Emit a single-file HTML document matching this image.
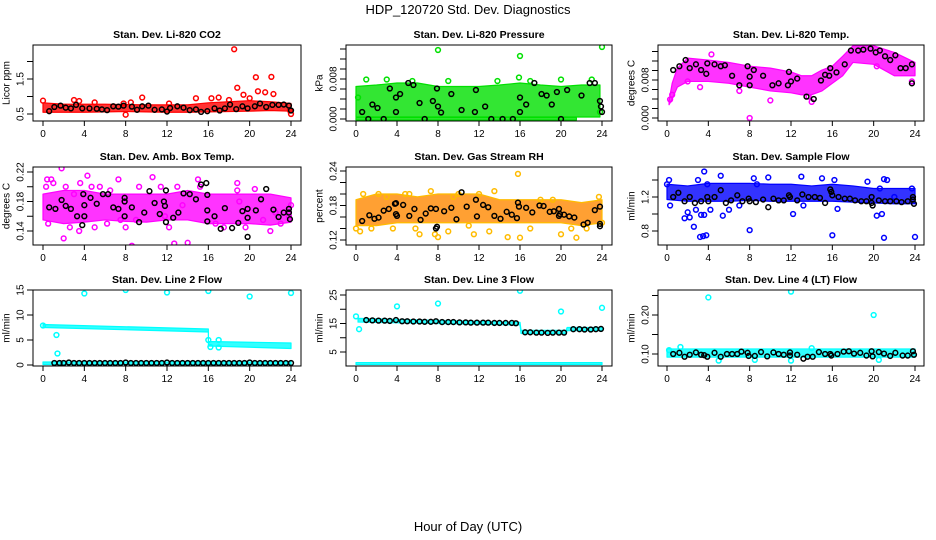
<!DOCTYPE html>
<html><head><meta charset="utf-8">
<style>
html,body{margin:0;padding:0;background:#fff}
svg{display:block}
text{font-family:"Liberation Sans",sans-serif;fill:#000}
.t{font-size:10.5px;font-weight:bold;text-anchor:middle}
.tk{font-size:10px;text-anchor:middle}
</style></head><body>
<svg id="chart" width="936" height="540" viewBox="0 0 936 540" xmlns="http://www.w3.org/2000/svg">
<text x="468" y="14" style="font-size:13px;text-anchor:middle">HDP_120720  Std. Dev. Diagnostics</text>
<text x="468" y="531" style="font-size:13px;text-anchor:middle">Hour of Day (UTC)</text>
</svg>
<script>
// ---------- shared ----------
const xTicks = [0,4,8,12,16,20,24];
// ---------- Panel 1: CO2 ----------
const co2BandHours = [0,2,4,6,8,10,12,14,16,18,20,22,24];
const co2BandLo = [0.55,0.55,0.55,0.56,0.57,0.56,0.55,0.55,0.56,0.57,0.58,0.6,0.58];
const co2BandHi = [0.82,0.78,0.78,0.78,0.77,0.76,0.76,0.76,0.82,0.85,0.88,0.85,0.8];
const co2Pts = [[0,0.88],[3,0.9],[3.5,0.87],[5,0.83],[7.8,0.8],[8,0.48],[8.5,0.83],[9.6,0.97],[12.2,0.8],[14.8,0.95],[16.3,0.95],[17,0.97],[18.5,2.35],[18.8,1.25],[19.4,1.05],[20.6,1.55],[20.8,1.15],[21.5,1.12],[22.1,1.56],[22.3,1.07],[18,0.9],[20,0.95],[24,0.5],[23.9,0.6]];
const co2Black = [[0.6,0.58],[1.1,0.7],[1.7,0.74],[2.2,0.68],[2.7,0.66],[3.2,0.76],[3.8,0.66],[4.5,0.66],[5.2,0.65],[5.7,0.63],[6.2,0.61],[6.8,0.72],[7.3,0.71],[7.8,0.74],[8.6,0.71],[9.1,0.62],[9.6,0.72],[10.2,0.74],[10.8,0.62],[11.5,0.63],[12,0.57],[12.3,0.67],[13,0.72],[13.6,0.68],[14.2,0.61],[14.8,0.63],[15.3,0.56],[15.9,0.58],[16.6,0.66],[17.1,0.6],[17.6,0.66],[18.1,0.77],[18.7,0.64],[19.3,0.72],[19.8,0.66],[20.5,0.72],[21,0.8],[21.6,0.7],[22.2,0.76],[22.8,0.76],[23.3,0.77],[23.8,0.74],[24,0.6]];
const co2Ticks = [0.5,1,1.5,2];
const co2TickLabels = ["0.5","","1.5",""];
// ---------- Panel 2: Pressure ----------
const presBandHours = [0,2,4,6,8,10,12,14,16,18,20,22,23.8];
const presBandLo = [0.0004,0.0004,0.0004,0.0004,0.0004,0.0004,0.0004,0.0004,0.0004,0.0004,0.0004,0.0004,0.0004];
const presBandHi = [0.0065,0.0068,0.0072,0.0072,0.0065,0.0065,0.0065,0.0068,0.0072,0.0068,0.0065,0.0068,0.0068];
const presZeroHours = [0,21.5];
const presZeroLo = [-0.0002,-0.0002];
const presZeroHi = [0.0003,0.0003];
const presPts = [[8,0.0138],[16,0.0126],[24,0.0144],[0.2,0.0043],[1,0.0079],[3,0.0079],[5.5,0.0076],[9,0.0076],[13.8,0.0076],[15.9,0.0083],[17,0.0076],[20,0.0079],[23,0.0079],[23.8,0.0014]];
const presBlack = [[0.6,0.0014],[1.2,0],[1.6,0.0029],[2.1,0.0022],[2.7,0],[3.3,0.0061],[3.9,0.0043],[3.9,0.0014],[4.3,0.005],[5.1,0.0072],[5.6,0.0068],[6.2,0.0032],[6.7,0],[7.5,0.0036],[7.9,0.0061],[8,0.0025],[8.3,0.0013],[9.3,0.005],[10.3,0.0018],[11.6,0.0014],[11.7,0.0058],[12.6,0.0025],[13.2,0],[14.3,0],[15.3,0],[16,0.0043],[16,0.0014],[16.6,0.0029],[17.4,0.0072],[18.1,0.005],[18.6,0.0047],[19.1,0.0029],[19.6,0.0054],[20,0],[20.6,0.0058],[22,0.0047],[22.8,0.0072],[23.3,0.0072],[23.8,0.0036],[23.9,0.0025],[24,0.0014]];
const presTicks = [0,0.002,0.004,0.006,0.008,0.010,0.012,0.014];
const presTickLabels = ["0.000","","","","0.008","","",""];
// ---------- Panel 3: Li-820 Temp ----------
const tempBandHours = [0.2,0.5,1,2,4,6,8,10,12,13,14,15,16,17,18,20,22,24];
const tempBandLo = [0.0028,0.004,0.0065,0.0077,0.0077,0.0073,0.0065,0.0057,0.0053,0.0049,0.0049,0.0057,0.0073,0.0089,0.0117,0.0113,0.0089,0.0089];
const tempBandHi = [0.0036,0.0073,0.0105,0.0126,0.0122,0.0117,0.0109,0.0105,0.0097,0.0089,0.0089,0.0101,0.0109,0.013,0.0152,0.0152,0.0138,0.0117];
const tempPts = [[8,0],[10,0.0037],[0.3,0.0039],[0.5,0.0049],[4.3,0.0134],[3.2,0.0065],[2,0.0077],[7,0.0057],[14,0.0034],[13.7,0.0045],[20.3,0.0109],[23.7,0.0077]];
const tempBlack = [[0.6,0.0101],[1.2,0.0109],[1.8,0.0122],[2.2,0.0105],[2.8,0.0113],[3.3,0.0101],[3.8,0.0093],[3.9,0.0115],[4.6,0.0113],[5.2,0.0109],[5.6,0.0111],[6.3,0.0089],[7,0.0069],[7.8,0.0109],[8,0.0069],[8,0.0087],[8.4,0.0101],[9.3,0.0089],[10.2,0.0069],[10.8,0.0073],[11.7,0.0069],[11.8,0.0097],[12,0.0077],[12.6,0.0083],[13.5,0.0045],[14.2,0.004],[14.9,0.0079],[15.3,0.0091],[15.7,0.0089],[15.8,0.0105],[16.4,0.0096],[17.2,0.0113],[17.8,0.0142],[18.5,0.0142],[19,0.0144],[19.7,0.0146],[20.2,0.0138],[20.6,0.0142],[21.1,0.013],[21.6,0.0122],[22.1,0.0132],[22.6,0.0105],[23.1,0.0105],[23.7,0.0113],[23.7,0.0073]];
const tempTicks = [0,0.002,0.004,0.006,0.008,0.010,0.012,0.014];
const tempTickLabels = ["0.000","","","","0.008","","",""];
// ---------- Panel 4: Amb Box Temp ----------
const ambBandHours = [0,2,4,6,8,10,12,14,16,18,20,22,24];
const ambBandLo = [0.155,0.15,0.152,0.155,0.153,0.152,0.155,0.155,0.15,0.15,0.15,0.148,0.152];
const ambBandHi = [0.19,0.195,0.195,0.19,0.19,0.19,0.19,0.195,0.19,0.19,0.19,0.19,0.185];
const ambPts = [[0.3,0.2],[0.4,0.21],[0.5,0.15],[0.8,0.21],[1,0.205],[1.8,0.225],[2,0.13],[2.2,0.2],[2.6,0.145],[3,0.19],[3.5,0.14],[3.6,0.205],[4.3,0.215],[4.7,0.2],[5.5,0.2],[6.2,0.15],[6.5,0.195],[7.3,0.21],[7.5,0.155],[8,0.145],[8.6,0.12],[9.3,0.2],[10.6,0.213],[11.4,0.2],[11.8,0.16],[12.2,0.145],[12.7,0.123],[13,0.2],[14,0.124],[15,0.21],[15.2,0.2],[16.7,0.15],[17.5,0.145],[18.8,0.205],[18.8,0.195],[19.6,0.145],[20.5,0.197],[21.3,0.155],[22.5,0.165],[23,0.15],[24,0.175],[23.8,0.16],[22,0.14],[19,0.18],[13.5,0.175],[9,0.155],[5,0.145]];
const ambBlack = [[0.6,0.172],[1.2,0.17],[1.8,0.182],[2.2,0.174],[2.7,0.17],[3.3,0.16],[3.8,0.148],[3.9,0.19],[4,0.175],[4,0.16],[4.6,0.185],[5.2,0.177],[5.8,0.19],[6.3,0.19],[6.8,0.172],[7.3,0.17],[7.9,0.185],[7.9,0.18],[7.9,0.16],[8.6,0.172],[9.3,0.152],[9.8,0.165],[10.3,0.194],[10.8,0.178],[11.3,0.163],[11.7,0.18],[11.8,0.174],[11.9,0.152],[11.9,0.195],[12.6,0.158],[13.1,0.165],[13.6,0.191],[14.2,0.19],[14.8,0.183],[15.3,0.203],[15.8,0.205],[15.9,0.189],[15.9,0.168],[15.9,0.153],[16.6,0.16],[17.2,0.143],[17.6,0.171],[18.3,0.144],[18.9,0.151],[19.3,0.167],[19.8,0.17],[19.8,0.158],[19.8,0.132],[20.6,0.168],[21.1,0.183],[21.6,0.197],[22.3,0.169],[22.8,0.159],[23.3,0.165],[23.8,0.17],[23.8,0.165],[23.9,0.156]];
const ambTicks = [0.14,0.16,0.18,0.20,0.22];
const ambTickLabels = ["0.14","","0.18","","0.22"];
// ---------- Panel 5: Gas Stream RH ----------
const rhBandHours = [0,2,4,6,8,10,12,14,16,18,20,22,24];
const rhBandLo = [0.145,0.145,0.15,0.15,0.15,0.15,0.15,0.15,0.15,0.15,0.15,0.145,0.15];
const rhBandHi = [0.19,0.2,0.2,0.195,0.2,0.2,0.2,0.19,0.19,0.19,0.19,0.185,0.19];
const rhPts = [[0,0.14],[0.4,0.135],[0.7,0.2],[1.5,0.14],[2.2,0.2],[3,0.195],[3.6,0.14],[4.8,0.2],[5.2,0.2],[5.8,0.14],[6.2,0.13],[7.3,0.205],[7.7,0.13],[8,0.125],[9,0.135],[9.5,0.195],[10,0.2],[11,0.145],[11.5,0.13],[12,0.2],[13,0.135],[13.5,0.205],[14.8,0.125],[15.8,0.235],[16,0.124],[17,0.14],[18,0.19],[19.2,0.19],[20,0.13],[21,0.14],[21.5,0.124],[22.5,0.14],[23.7,0.195],[24,0.15]];
const rhBlack = [[0.6,0.153],[1.3,0.163],[1.8,0.157],[2.2,0.159],[2.7,0.171],[3.2,0.174],[3.8,0.183],[3.9,0.184],[3.9,0.165],[4,0.162],[4.6,0.181],[5.2,0.162],[5.7,0.174],[6.3,0.155],[6.8,0.166],[7.3,0.175],[7.8,0.174],[7.8,0.14],[7.9,0.143],[8.6,0.17],[9.3,0.176],[9.8,0.156],[10.3,0.203],[10.8,0.178],[11.7,0.19],[11.8,0.161],[12.4,0.181],[12.9,0.177],[13.5,0.162],[14.1,0.157],[14.7,0.169],[15.2,0.164],[15.7,0.158],[15.9,0.178],[15.8,0.185],[16.6,0.176],[17.2,0.168],[17.9,0.18],[18.3,0.179],[18.9,0.169],[19.3,0.17],[19.8,0.174],[19.8,0.162],[19.9,0.165],[20.3,0.164],[20.8,0.161],[21.3,0.159],[22.2,0.147],[22.6,0.15],[23.3,0.172],[23.8,0.178],[23.8,0.148],[23.8,0.144]];
const rhTicks = [0.12,0.14,0.16,0.18,0.20,0.22,0.24];
const rhTickLabels = ["0.12","","","0.18","","","0.24"];
// ---------- Panel 6: Sample Flow ----------
const sfBandHours = [0,2,4,6,8,10,12,14,16,18,20,22,24];
const sfBandLo = [1.17,1.15,1.15,1.15,1.16,1.15,1.15,1.15,1.15,1.14,1.13,1.12,1.12];
const sfBandHi = [1.35,1.33,1.36,1.36,1.36,1.35,1.35,1.33,1.35,1.33,1.3,1.3,1.3];
const sfPts = [[0,1.35],[0.2,1.4],[0.3,1.1],[1.7,0.95],[2,1.02],[2.2,0.96],[2.6,0.85],[2.8,1.05],[3,1.4],[3.2,0.73],[3.5,0.74],[3.6,1.5],[3.8,0.75],[3.9,1.35],[3.3,0.99],[3.6,0.99],[4.2,1.05],[5.2,1.45],[5.4,0.98],[6,1.05],[7,1.1],[8,0.81],[8.4,1.42],[8.7,1.35],[9.8,1.43],[12.2,1.0],[13,1.44],[13.2,1.1],[15,1.42],[16,0.75],[16.2,1.4],[16.5,1.06],[19.4,1.38],[20.3,0.98],[20.6,1.3],[20.8,1.0],[21,1.41],[21,0.72],[21.3,1.4],[22,1.2],[23.7,1.3],[24,0.73]];
const sfBlack = [[0.6,1.2],[1.1,1.25],[1.7,1.15],[2.2,1.2],[2.7,1.13],[3.3,1.15],[3.9,1.2],[4,1.15],[4.6,1.2],[5.2,1.28],[5.7,1.13],[6.2,1.16],[6.8,1.22],[7.3,1.15],[7.9,1.18],[8,1.15],[8.6,1.14],[9.3,1.17],[9.8,1.08],[10.3,1.18],[10.8,1.16],[11.3,1.16],[11.8,1.22],[11.9,1.2],[12.6,1.16],[13.1,1.23],[13.7,1.2],[14.3,1.2],[14.8,1.19],[15.3,1.13],[15.8,1.29],[15.9,1.26],[16,1.22],[16.6,1.2],[17.2,1.18],[17.7,1.18],[18.2,1.16],[18.8,1.15],[19.3,1.15],[19.8,1.2],[19.8,1.13],[19.9,1.1],[20.5,1.16],[21.1,1.15],[21.6,1.15],[22.2,1.15],[22.7,1.14],[23.3,1.15],[23.8,1.2],[23.8,1.17],[23.9,1.12]];
const sfTicks = [0.8,1.0,1.2,1.4];
const sfTickLabels = ["0.8","","1.2",""];
// ---------- Panel 7: Line 2 Flow ----------
const l2BandHours = [0,16,16.01,24];
const l2BandLo = [7.5,6.6,3.8,3.3];
const l2BandHi = [8.1,7.2,4.7,4.4];
const l2LowHours = [0,24];
const l2LowLo = [0.1,0.1];
const l2LowHi = [0.6,0.6];
const l2Pts = [[4,14.3],[8,15],[12,14.5],[16,14.8],[20,13.7],[24,14.4],[1.3,6],[1.4,2.3],[16,5],[16.2,3.6],[17,3.5],[17,5],[0,7.9]];
const l2BlackHours = [1.1,1.6,2,2.5,3,3.5,4,4.5,5,5.5,6,6.5,7,7.5,8,8.5,9,9.5,10,10.5,11,11.5,12,12.5,13,13.5,14,14.5,15,15.5,16,16.5,17,17.5,18,18.5,19,19.5,20,20.5,21,21.5,22,22.5,23,23.5,24];
const l2BlackVals = [0.4,0.4,0.4,0.5,0.4,0.4,0.4,0.4,0.4,0.4,0.4,0.4,0.4,0.4,0.5,0.4,0.4,0.4,0.4,0.4,0.4,0.4,0.5,0.4,0.4,0.4,0.4,0.4,0.4,0.4,0.4,0.4,0.4,0.4,0.4,0.4,0.4,0.4,0.5,0.4,0.4,0.4,0.4,0.4,0.4,0.4,0.4];
const l2Ticks = [0,5,10,15];
const l2TickLabels = ["0","5","10","15"];
// ---------- Panel 8: Line 3 Flow ----------
const l3BandHours = [0.2,16,16.1,20.5,20.6,24];
const l3BandLo = [15.5,14.5,11.5,11.5,12.5,12.5];
const l3BandHi = [16.8,15.4,12.6,12.6,13.6,13.6];
const l3LowHours = [0,24];
const l3LowLo = [0.6,0.6];
const l3LowHi = [1.3,1.3];
const l3Pts = [[0,17.5],[0.3,13],[4,21],[8,22],[16,26.5],[20,19.2],[24,20.5]];
const l3Black = [[1,16.2],[1.6,16.1],[2.2,16],[2.8,16],[3.3,15.9],[3.9,16.2],[4.5,15.8],[5,15.8],[5.6,15.7],[6.2,15.7],[6.7,15.6],[7.3,15.6],[7.8,15.8],[8.4,15.5],[9,15.5],[9.5,15.5],[10.1,15.4],[10.7,15.4],[11.2,15.3],[11.8,15.3],[12.4,15.3],[12.9,15.3],[13.5,15.2],[14,15.2],[14.6,15.2],[15.2,15.2],[15.6,15.1],[16.5,11.9],[17,11.9],[17.6,11.8],[18.1,11.8],[18.7,11.7],[19.2,11.8],[19.8,11.8],[20.3,11.8],[21.2,13],[21.8,13],[22.3,12.9],[22.9,12.9],[23.4,13],[23.9,13.1]];
const l3Ticks = [5,10,15,20,25];
const l3TickLabels = ["5","","15","","25"];
// ---------- Panel 9: Line 4 Flow ----------
const l4BandHours = [0,24];
const l4BandLo = [0.092,0.092];
const l4BandHi = [0.113,0.113];
const l4Pts = [[4,0.245],[12,0.26],[20,0.2],[1.3,0.118],[5,0.083],[12,0.083],[20.5,0.085],[8.5,0.085],[0.2,0.11],[14,0.115]];
const l4Black = [[0.6,0.1],[1.2,0.103],[1.7,0.093],[2.2,0.098],[2.8,0.104],[3.3,0.098],[3.6,0.097],[3.9,0.093],[4.6,0.103],[5.2,0.093],[5.8,0.1],[6.3,0.1],[6.8,0.1],[7.2,0.106],[7.8,0.103],[7.9,0.095],[8.5,0.095],[9.1,0.105],[9.7,0.094],[10.3,0.104],[10.8,0.1],[11.3,0.098],[11.9,0.104],[11.9,0.096],[12.6,0.098],[13.2,0.088],[13.6,0.093],[14.1,0.093],[14.7,0.105],[15.3,0.1],[15.8,0.1],[15.9,0.096],[16.5,0.1],[17.1,0.106],[17.6,0.107],[18.1,0.101],[18.7,0.103],[19.3,0.096],[19.8,0.107],[19.9,0.094],[20.5,0.105],[21,0.101],[21.6,0.095],[22.1,0.103],[22.8,0.096],[23.3,0.096],[23.8,0.107],[23.9,0.098]];
const l4Ticks = [0.10,0.15,0.20,0.25];
const l4TickLabels = ["0.10","","0.20",""];

// ---------- layout (pixels, not data) ----------
const cols = [{l:33,r:301,x0:43,x24:291},{l:346,r:612,x0:356,x24:602},{l:658,r:924,x0:667,x24:915}];
const rows = [{t:45,b:121},{t:167,b:245},{t:290,b:366}];
const NS = "http://www.w3.org/2000/svg";
const svg = document.getElementById('chart');
function mk(tag, attrs, parent){
  const e = document.createElementNS(NS, tag);
  for (const k in attrs) e.setAttribute(k, attrs[k]);
  (parent||svg).appendChild(e);
  return e;
}
function lin(d0,r0,d1,r1){ return v => r0 + (v-d0)*(r1-r0)/(d1-d0); }

function panel(id, ci, ri, title, ylabel, yRef, ticks, tickLabels, color, bandFill, bands, pts, black){
  const c = cols[ci], r = rows[ri];
  const xs = lin(0, c.x0, 24, c.x24);
  const ys = lin(yRef[0], yRef[1], yRef[2], yRef[3]);
  const g = mk('g', {});
  
  
  const cp = mk('clipPath', {id: id+'-clip'}, g);
  mk('rect', {x:c.l, y:r.t, width:c.r-c.l, height:r.b-r.t}, cp);
  const plot = mk('g', {'clip-path':'url(#'+id+'-clip)'}, g);
  
  
  bands.forEach(b => {
    const up = b.h.map((h,i) => xs(h)+','+ys(b.hi[i]));
    const dn = b.h.map((h,i) => xs(h)+','+ys(b.lo[i])).reverse();
    const p = mk('polygon', {points: up.concat(dn).join(' '), fill: bandFill, 'fill-opacity':0.8, stroke: color, 'stroke-width': 1.2, 'stroke-linejoin':'round'}, plot);
    
    
  });
  pts.forEach(p => {
    const e = mk('circle', {cx: xs(p[0]), cy: ys(p[1]), r: 2.4, fill: 'none', stroke: color, 'stroke-width': 1.5}, plot);
    
    
  });
  black.forEach(p => {
    const e = mk('circle', {cx: xs(p[0]), cy: ys(p[1]), r: 2.4, fill: 'none', stroke: '#000', 'stroke-width': 1.5}, plot);
    
    
  });
  const box = mk('rect', {x:c.l, y:r.t, width:c.r-c.l, height:r.b-r.t, fill:'none', stroke:'#000', 'stroke-width':1}, g);
  
  
  mk('line', {x1:xs(0), x2:xs(24), y1:r.b, y2:r.b, stroke:'#000'}, g);
  xTicks.forEach(t => {
    mk('line', {x1:xs(t), x2:xs(t), y1:r.b, y2:r.b+5, stroke:'#000'}, g);
    const tx = mk('text', {x:xs(t), y:r.b+16, class:'tk'}, g);
    tx.textContent = t;
    
    
  });
  ticks.forEach((t,i) => {
    const y = ys(t);
    if (y < r.t-1 || y > r.b+1) return;
    mk('line', {x1:c.l-6, x2:c.l, y1:y, y2:y, stroke:'#000'}, g);
    if (tickLabels[i]) {
      const tx = mk('text', {x:c.l-12, y:y, class:'tk', transform:'rotate(-90 '+(c.l-12)+' '+y+')', 'dominant-baseline':'middle'}, g);
      tx.textContent = tickLabels[i];
      
      
    }
  });
  const yl = (r.t+r.b)/2;
  const lab = mk('text', {x:c.l-26, y:yl, class:'tk', transform:'rotate(-90 '+(c.l-26)+' '+yl+')', 'dominant-baseline':'middle'}, g);
  lab.textContent = ylabel;
  
  
  const tt = mk('text', {x:(c.l+c.r)/2, y:r.t-7, class:'t'}, g);
  tt.textContent = title;
  
  
}

panel('co2',0,0,'Stan. Dev. Li-820 CO2','Licor ppm',[0.5,114,1.5,79],co2Ticks,co2TickLabels,'#ff0000','#ff0000',
  [{h:co2BandHours,lo:co2BandLo,hi:co2BandHi}],co2Pts,co2Black);
panel('pressure',1,0,'Stan. Dev. Li-820 Pressure','kPa',[0,119,0.008,79],presTicks,presTickLabels,'#00e000','#00e000',
  [{h:presBandHours,lo:presBandLo,hi:presBandHi},{h:presZeroHours,lo:presZeroLo,hi:presZeroHi}],presPts,presBlack);
panel('li-temp',2,0,'Stan. Dev. Li-820 Temp.','degrees C',[0,118,0.008,80],tempTicks,tempTickLabels,'#ff00ff','#ff00ff',
  [{h:tempBandHours,lo:tempBandLo,hi:tempBandHi}],tempPts,tempBlack);
panel('amb-temp',0,1,'Stan. Dev. Amb. Box Temp.','degrees C',[0.14,231,0.22,172],ambTicks,ambTickLabels,'#ff00ff','#ff00ff',
  [{h:ambBandHours,lo:ambBandLo,hi:ambBandHi}],ambPts,ambBlack);
panel('rh',1,1,'Stan. Dev. Gas Stream RH','percent',[0.12,240,0.24,171],rhTicks,rhTickLabels,'#ffbb00','#ff8800',
  [{h:rhBandHours,lo:rhBandLo,hi:rhBandHi}],rhPts,rhBlack);
panel('sample-flow',2,1,'Stan. Dev. Sample Flow','ml/min',[0.8,231,1.2,197],sfTicks,sfTickLabels,'#0000ff','#0000ff',
  [{h:sfBandHours,lo:sfBandLo,hi:sfBandHi}],sfPts,sfBlack);
panel('line2',0,2,'Stan. Dev. Line 2 Flow','ml/min',[0,365,15,290],l2Ticks,l2TickLabels,'#00ffff','#00ffff',
  [{h:l2BandHours,lo:l2BandLo,hi:l2BandHi},{h:l2LowHours,lo:l2LowLo,hi:l2LowHi}],l2Pts,l2BlackHours.map((h,i)=>[h,l2BlackVals[i]]));
panel('line3',1,2,'Stan. Dev. Line 3 Flow','ml/min',[5,352,25,295],l3Ticks,l3TickLabels,'#00ffff','#00ffff',
  [{h:l3BandHours,lo:l3BandLo,hi:l3BandHi},{h:l3LowHours,lo:l3LowLo,hi:l3LowHi}],l3Pts,l3Black);
panel('line4',2,2,'Stan. Dev. Line 4 (LT) Flow','ml/min',[0.10,354,0.20,315],l4Ticks,l4TickLabels,'#00ffff','#00ffff',
  [{h:l4BandHours,lo:l4BandLo,hi:l4BandHi}],l4Pts,l4Black);
</script>
</body></html>
